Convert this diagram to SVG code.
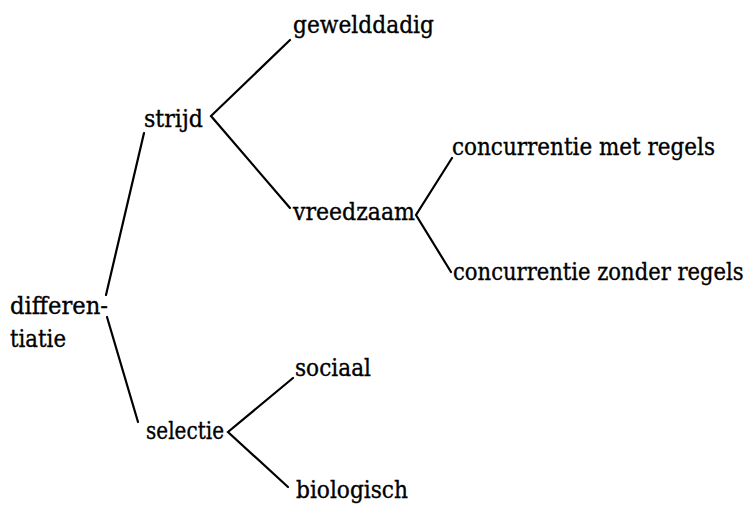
<svg xmlns="http://www.w3.org/2000/svg" width="754" height="505" viewBox="0 0 754 505">
<style>
  .lbl { font-family: 'DejaVu Serif', 'Liberation Serif', serif; font-size: 24px; fill: #000; stroke: #000; stroke-width: 0.35; }
  .ln { fill: none; stroke: #000; stroke-width: 2.2; stroke-linecap: round; stroke-linejoin: miter; }
</style>
<rect width="754" height="505" fill="#ffffff"/>
<g id="connectors">
  <polyline class="ln" points="290,40 211,116 290,208"/>
  <polyline class="ln" points="452,158 416,215 451,272"/>
  <line class="ln" x1="144" y1="133" x2="106" y2="295"/>
  <line class="ln" x1="107" y1="317" x2="138" y2="422"/>
  <polyline class="ln" points="293,378 228,432 288,487"/>
</g>
<g id="node-differentiatie">
  <text class="lbl" x="10" y="314" textLength="98" lengthAdjust="spacingAndGlyphs">differen-</text>
  <text class="lbl" x="10" y="347" textLength="56" lengthAdjust="spacingAndGlyphs">tiatie</text>
</g>
<g id="node-strijd">
  <text class="lbl" x="144" y="127" textLength="59" lengthAdjust="spacingAndGlyphs">strijd</text>
</g>
<g id="node-gewelddadig">
  <text class="lbl" x="293" y="33" textLength="141" lengthAdjust="spacingAndGlyphs">gewelddadig</text>
</g>
<g id="node-vreedzaam">
  <text class="lbl" x="293" y="220" textLength="122" lengthAdjust="spacingAndGlyphs">vreedzaam</text>
</g>
<g id="node-concurrentie-met-regels">
  <text class="lbl" x="452" y="155" textLength="263" lengthAdjust="spacingAndGlyphs">concurrentie met regels</text>
</g>
<g id="node-concurrentie-zonder-regels">
  <text class="lbl" x="0" y="0" transform="translate(453,280) scale(0.88,1)">concurrentie zonder regels</text>
</g>
<g id="node-selectie">
  <text class="lbl" x="146" y="439" textLength="78" lengthAdjust="spacingAndGlyphs">selectie</text>
</g>
<g id="node-sociaal">
  <text class="lbl" x="295" y="376" textLength="76" lengthAdjust="spacingAndGlyphs">sociaal</text>
</g>
<g id="node-biologisch">
  <text class="lbl" x="296" y="498" textLength="112" lengthAdjust="spacingAndGlyphs">biologisch</text>
</g>
</svg>
